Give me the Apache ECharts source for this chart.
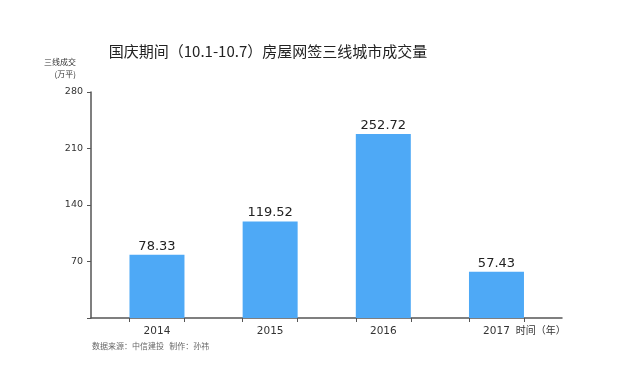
<!DOCTYPE html>
<html>
<head>
<meta charset="utf-8">
<script src="https://cdn.jsdelivr.net/npm/echarts@6/dist/echarts.min.js"></script>
<style>html,body{margin:0;padding:0;background:#fff}#c{width:640px;height:373px}</style>
</head>
<body>
<div id="c"></div>
<script>
var categories = ['2014', '2015', '2016', '2017'];
// bar heights as drawn in the picture
var barHeights = [78.33, 119.52, 228, 57.43];
// value labels printed above the bars
var labelValues = ['78.33', '119.52', '252.72', '57.43'];
var yTicks = [0, 70, 140, 210, 280];

var chart = echarts.init(document.getElementById('c'));
var font = "'DejaVu Sans', 'Noto Sans CJK SC', sans-serif";
var cjk = "'Noto Sans CJK SC', sans-serif";
var half = 0.243;
var tickVals = [];
categories.forEach(function (c, i) { tickVals.push(i - half, i + half); });

chart.setOption({
  animation: false,
  backgroundColor: '#fff',
  title: {
    text: '国庆期间（10.1-10.7）房屋网签三线城市成交量',
    left: 263, top: 39, textAlign: 'center',
    textStyle: { fontFamily: cjk, fontSize: 15, fontWeight: 'normal', color: '#222' }
  },
  grid: { left: 91, right: 78, top: 92, bottom: 55 },
  xAxis: {
    type: 'value', min: -0.583, max: 3.579,
    splitLine: { show: false },
    axisLine: { show: true, onZero: false, lineStyle: { color: '#555', width: 1.5 } },
    axisTick: { show: true, customValues: tickVals, length: 4, lineStyle: { color: '#555' } },
    axisLabel: {
      customValues: categories.map(function (c, i) { return i; }),
      formatter: function (v) { return categories[Math.round(v)]; },
      fontFamily: font, fontSize: 10.5, color: '#333', margin: 8
    },
    name: '时间（年）', nameLocation: 'end', nameGap: 0,
    nameTextStyle: { fontFamily: cjk, fontSize: 10, color: '#333', align: 'right', verticalAlign: 'top', padding: [7, -2, 0, 0] }
  },
  yAxis: {
    type: 'value', min: yTicks[0], max: yTicks[yTicks.length - 1], interval: 70,
    splitLine: { show: false },
    axisLine: { show: true, onZero: false, lineStyle: { color: '#555', width: 1.5 } },
    axisTick: { show: true, length: 4, lineStyle: { color: '#555' } },
    axisLabel: {
      formatter: function (v) { return v === 0 ? '' : String(v); },
      fontFamily: font, fontSize: 9.5, color: '#333', margin: 8
    },
    name: '三线成交\n(万平)', nameLocation: 'end', nameGap: 12,
    nameTextStyle: { fontFamily: cjk, fontSize: 8, lineHeight: 12, color: '#333', align: 'right', verticalAlign: 'bottom', padding: [0, 15, 0, 0] }
  },
  series: [{
    type: 'bar',
    barWidth: 55,
    data: barHeights.map(function (v, i) { return [i, v]; }),
    itemStyle: { color: '#4EA9F6' },
    label: {
      show: true, position: 'top', distance: 2,
      formatter: function (p) { return labelValues[p.dataIndex]; },
      fontFamily: font, fontSize: 13, color: '#222'
    }
  }],
  graphic: [{
    type: 'text', left: 92, top: 342,
    style: { text: '数据来源：中信建投   制作：孙祎', font: '8px ' + cjk, fill: '#666' }
  }]
});
</script>
</body>
</html>
